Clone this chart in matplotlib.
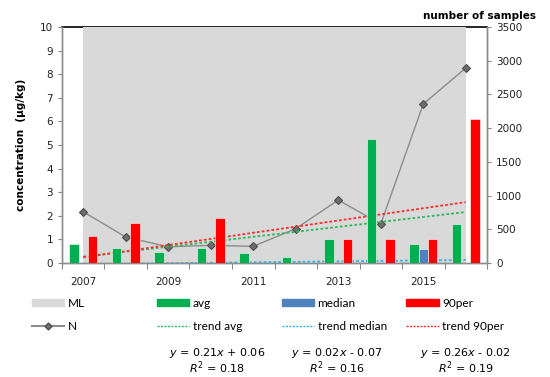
import numpy as np
import matplotlib
matplotlib.use("Agg")
import matplotlib.pyplot as plt
from matplotlib.patches import Patch
from matplotlib.lines import Line2D

# data
years = [2007, 2008, 2009, 2010, 2011, 2012, 2013, 2014, 2015, 2016]
ml = [10, 10, 10, 10, 10, 10, 10, 10, 10, 10]
avg = [0.80, 0.62, 0.47, 0.64, 0.42, 0.27, 1.02, 5.27, 0.81, 1.67]
median = [0, 0, 0, 0, 0, 0, 0, 0, 0.59, 0]
per90 = [1.13, 1.71, 0, 1.91, 0, 0, 1.02, 1.02, 1.02, 6.10]
n_samples = [760, 385, 240, 262, 247, 509, 934, 578, 2358, 2892]
# trend equations as printed on the chart: y = a*x + b, x = 1..10
trend_names = ["trend avg", "trend median", "trend 90per"]
trend_slope = [0.21, 0.02, 0.26]
trend_icpt = [0.06, -0.07, -0.02]
trend_r2 = [0.18, 0.16, 0.19]

c_green = "#00B050"
c_blue = "#4F81BD"
c_red = "#FF0000"
c_ml = "#D9D9D9"
trend_colors = ["#2EB85C", "#2FB4E8", "#FF2A2A"]

fig = plt.figure(figsize=(5.5, 3.77), dpi=100)
ax = fig.add_axes([0.1127, 0.3024, 0.7728, 0.626])
ax2 = ax.twinx()
ax.set_zorder(ax2.get_zorder() + 1)
ax.patch.set_visible(False)

x = np.arange(len(years))

# ML area (on ax2 so it stays behind the N line and bars)
ax2.fill_between(x, 0, ml, color=c_ml, lw=0, transform=ax.transData, zorder=1)

# N line
ax2.plot(x, n_samples, color="#8C8C8C", lw=1.0, marker="D", ms=4,
         mfc="#6E6E6E", mec="#4D4D4D", mew=0.8, zorder=3)

# trend lines
xt = x + 1
for a, b, col in zip(trend_slope, trend_icpt, trend_colors):
    ax.plot(x, a * xt + b, ls=(0, (1.5, 1.2)), color=col, lw=1.3, zorder=2)

bw = 0.22
ax.bar(x - bw, avg, bw, color=c_green, edgecolor="white", lw=0.4, zorder=4)
ax.bar(x, median, bw, color=c_blue, edgecolor="white", lw=0.4, zorder=4)
ax.bar(x + bw, per90, bw, color=c_red, edgecolor="white", lw=0.4, zorder=4)

ax.set_xlim(-0.5, len(years) - 0.5)
ax.set_ylim(0, 10)
ax2.set_ylim(0, 3500)

ax.set_yticks(range(0, 11))
ax2.set_yticks(range(0, 3501, 500))
ax.set_xticks(np.concatenate([[-0.5], x + 0.5]))
ax.set_xticklabels([])
ax.set_xticks(x[::2], minor=True)
ax.set_xticklabels([str(y) for y in years[::2]], minor=True)

tick_font = dict(labelsize=7.5, colors="#222222")
ax.tick_params(axis="y", length=3, color="#888888", **tick_font)
ax2.tick_params(axis="y", length=3, color="#888888", **tick_font)
ax.tick_params(axis="x", which="major", length=4, color="#888888")
ax.tick_params(axis="x", which="minor", length=0, pad=10, **tick_font)

for a_ in (ax, ax2):
    for s in a_.spines.values():
        s.set_color("#8C8C8C")
        s.set_linewidth(1.0)
ax.spines["top"].set_visible(False)
ax2.spines["top"].set_color("black")
ax2.spines["top"].set_linewidth(1.2)
ax2.spines["top"].set_zorder(0.5)

ax.set_ylabel("concentration  (µg/kg)", fontsize=7.5, fontweight="bold", labelpad=10)
fig.text(0.975, 0.958, "number of samples", ha="right", va="center",
         fontsize=7.5, fontweight="bold")

# legend, one column at a time
dot = (0, (1.5, 1))
cols = [
    ([Patch(color=c_ml), Line2D([], [], color="#8C8C8C", marker="D", ms=3.5,
                                mfc="#6E6E6E", mec="#4D4D4D")], ["ML", "N"]),
    ([Patch(color=c_green), Line2D([], [], color=trend_colors[0], ls=dot, lw=1)],
     ["avg", trend_names[0]]),
    ([Patch(color=c_blue), Line2D([], [], color=trend_colors[1], ls=dot, lw=1)],
     ["median", trend_names[1]]),
    ([Patch(color=c_red), Line2D([], [], color=trend_colors[2], ls=dot, lw=1)],
     ["90per", trend_names[2]]),
]
col_x = [0.058, 0.285, 0.512, 0.739]
for cx, (h, l) in zip(col_x, cols):
    fig.legend(h, l, loc="upper left", bbox_to_anchor=(cx, 0.21),
               frameon=False, prop={"family": "Lato", "size": 8.5},
               handlelength=2.75, handleheight=0.55, handletextpad=0.3,
               labelspacing=1.0, borderaxespad=0, borderpad=0)

eq_x = [0.395, 0.612, 0.847]
for xc, a, b, r2 in zip(eq_x, trend_slope, trend_icpt, trend_r2):
    sign = "+" if b >= 0 else "-"
    fig.text(xc, 0.063, "$y$ = %.2f$x$ %s %.2f" % (a, sign, abs(b)),
             ha="center", va="center", fontsize=8)
    fig.text(xc, 0.025, "$R^2$ = %.2f" % r2, ha="center", va="center", fontsize=8)

fig.savefig("out.png", dpi=100)
